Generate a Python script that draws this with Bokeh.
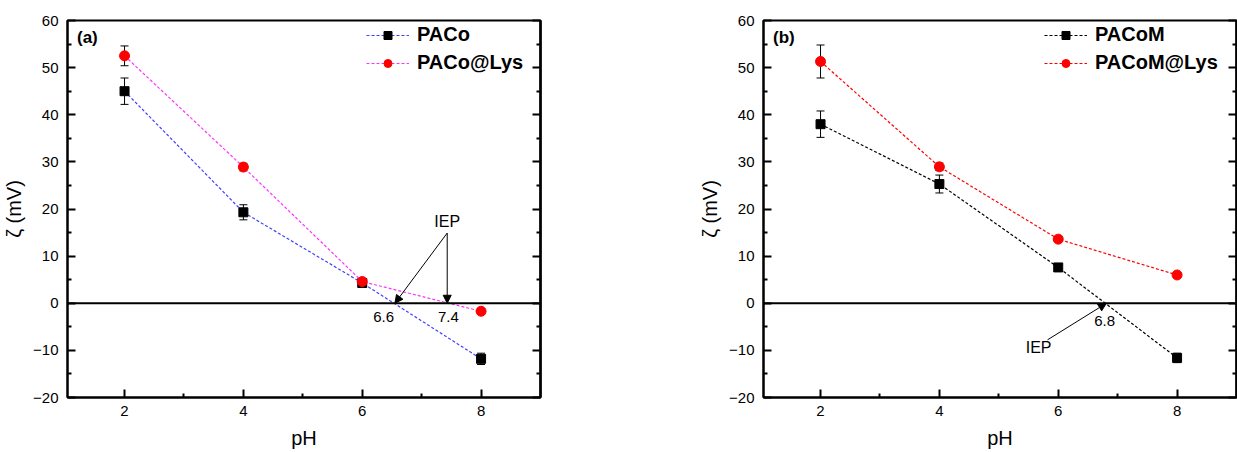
from bokeh.plotting import figure
from bokeh.layouts import row
from bokeh.models import (Range1d, FixedTicker, LinearAxis, Span, Whisker, TeeHead,
                          Arrow, NormalHead, Label, Legend, LegendItem, ColumnDataSource)
from bokeh.embed import file_html
from bokeh.resources import INLINE

# ---------------- data ----------------
ph = [2, 4, 6, 8]

paco = [45.0, 19.3, 4.3, -11.8]
paco_err = [2.8, 1.6, 0.8, 1.2]
paco_lys = [52.5, 28.9, 4.6, -1.7]
paco_lys_err = [2.1, 0.8, 0.7, 0.6]

pacom = [38.0, 25.3, 7.6, -11.6]
pacom_err = [2.8, 1.9, 0.6, 1.0]
pacom_lys = [51.3, 28.95, 13.6, 6.0]
pacom_lys_err = [3.5, 0.8, 0.5, 0.4]

x_ticks = [2, 4, 6, 8]
x_minor = [3, 5, 7]
y_ticks = [-20, -10, 0, 10, 20, 30, 40, 50, 60]
y_minor = [-15, -5, 5, 15, 25, 35, 45, 55]

# IEP annotations (data coordinates)
iep_a_values = ["6.6", "7.4"]
iep_a_tips_x = [6.55, 7.43]
iep_b_value = "6.8"
iep_b_tip_x = 6.81

FONT = "Liberation Sans"


def tick_only_axis(ticks, length):
    return LinearAxis(ticker=FixedTicker(ticks=[], minor_ticks=ticks),
                      major_tick_in=0, major_tick_out=0,
                      minor_tick_in=length, minor_tick_out=0,
                      minor_tick_line_width=2, axis_line_width=2,
                      major_label_standoff=0)


def make_panel(tag, names, ys, errs, line_colors, width, border_left, border_right, legend_x):
    p = figure(width=width, height=452, output_backend="svg", toolbar_location=None,
               x_range=Range1d(1.04, 9.0), y_range=Range1d(-20, 60),
               min_border_left=border_left, min_border_right=border_right,
               min_border_top=20, min_border_bottom=55, y_axis_location="left")
    p.background_fill_color = "white"
    p.border_fill_color = "white"
    p.outline_line_color = "black"
    p.outline_line_width = 2
    p.xgrid.visible = False
    p.ygrid.visible = False

    for ax in (p.xaxis[0], p.yaxis[0]):
        ax.axis_line_width = 2
        ax.major_tick_in = 8
        ax.major_tick_out = 0
        ax.minor_tick_in = 4
        ax.minor_tick_out = 0
        ax.major_tick_line_width = 2
        ax.minor_tick_line_width = 2
        ax.major_label_text_font = FONT
        ax.major_label_text_font_size = "15px"
        ax.major_label_text_color = "black"
        ax.axis_label_text_font = FONT
        ax.axis_label_text_font_size = "20px"
        ax.axis_label_text_font_style = "normal"
        ax.axis_label_text_color = "black"
    p.xaxis[0].ticker = FixedTicker(ticks=x_ticks, minor_ticks=x_minor)
    p.yaxis[0].ticker = FixedTicker(ticks=y_ticks, minor_ticks=y_minor)
    p.xaxis[0].axis_label = "pH"
    p.yaxis[0].axis_label = "ζ (mV)"
    p.xaxis[0].major_label_standoff = 8
    p.yaxis[0].major_label_standoff = 9
    p.xaxis[0].axis_label_standoff = 8
    p.yaxis[0].axis_label_standoff = 5

    # right side: tick marks only (no labels)
    p.add_layout(tick_only_axis(y_ticks, 8), "right")
    p.add_layout(tick_only_axis(y_minor, 4), "right")

    p.add_layout(Span(location=0, dimension="width", line_color="black", line_width=2))

    items = []
    markers = ["square", "circle"]
    fills = ["black", "red"]
    sizes = [9, 10]
    for i in range(2):
        src = ColumnDataSource(dict(x=ph, y=ys[i],
                                    upper=[a + b for a, b in zip(ys[i], errs[i])],
                                    lower=[a - b for a, b in zip(ys[i], errs[i])]))
        l = p.line("x", "y", source=src, line_color=line_colors[i], line_width=1.2,
                   line_dash="3 2")
        s = p.scatter("x", "y", source=src, marker=markers[i], size=sizes[i],
                      fill_color=fills[i], line_color=fills[i])
        p.add_layout(Whisker(source=src, base="x", upper="upper", lower="lower",
                             line_color="black", line_width=1,
                             upper_head=TeeHead(size=8, line_color="black", line_width=1),
                             lower_head=TeeHead(size=8, line_color="black", line_width=1)))
        items.append(LegendItem(label=names[i], renderers=[l, s]))

    leg = Legend(items=items, location=(legend_x, 323), padding=0, margin=0, spacing=5,
                 glyph_width=43, glyph_height=20, label_height=20, label_standoff=8,
                 label_text_font=FONT, label_text_font_size="20px",
                 label_text_font_style="bold", label_text_color="black",
                 background_fill_alpha=0, border_line_alpha=0)
    p.add_layout(leg)

    p.add_layout(Label(x=1.2, y=56.4, text=tag, text_font=FONT, text_font_size="17px",
                       text_font_style="bold", text_baseline="middle", text_color="black"))
    return p


pa = make_panel("(a)", ["PACo", "PACo@Lys"], [paco, paco_lys], [paco_err, paco_lys_err],
                ["#4040ff", "#ff33ff"], 620, 66, 80, 299)
pb = make_panel("(b)", ["PACoM", "PACoM@Lys"], [pacom, pacom_lys], [pacom_err, pacom_lys_err],
                ["black", "red"], 617, 143, 1, 281)

# panel (a) IEP annotations
iep_src_x = 7.43
iep_src_y = 14.9
for tx in iep_a_tips_x:
    pa.add_layout(Arrow(x_start=iep_src_x, y_start=iep_src_y, x_end=tx, y_end=0,
                        line_color="black", line_width=1,
                        end=NormalHead(size=8, fill_color="black", line_color="black")))
pa.add_layout(Label(x=7.43, y=15.5, text="IEP", text_font=FONT, text_font_size="16px",
                    text_align="center", text_baseline="bottom", text_color="black"))
pa.add_layout(Label(x=6.36, y=-3.0, text=iep_a_values[0], text_font=FONT, text_font_size="15px",
                    text_align="center", text_baseline="middle", text_color="black"))
pa.add_layout(Label(x=7.45, y=-3.0, text=iep_a_values[1], text_font=FONT, text_font_size="15px",
                    text_align="center", text_baseline="middle", text_color="black"))

# panel (b) IEP annotation
pb.add_layout(Arrow(x_start=5.82, y_start=-7.76, x_end=iep_b_tip_x, y_end=0,
                    line_color="black", line_width=1,
                    end=NormalHead(size=8, fill_color="black", line_color="black")))
pb.add_layout(Label(x=5.67, y=-9.3, text="IEP", text_font=FONT, text_font_size="16px",
                    text_align="center", text_baseline="middle", text_color="black"))
pb.add_layout(Label(x=6.78, y=-3.8, text=iep_b_value, text_font=FONT, text_font_size="15px",
                    text_align="center", text_baseline="middle", text_color="black"))

layout = row(pa, pb)
open("out.html", "w").write(file_html(layout, INLINE))
